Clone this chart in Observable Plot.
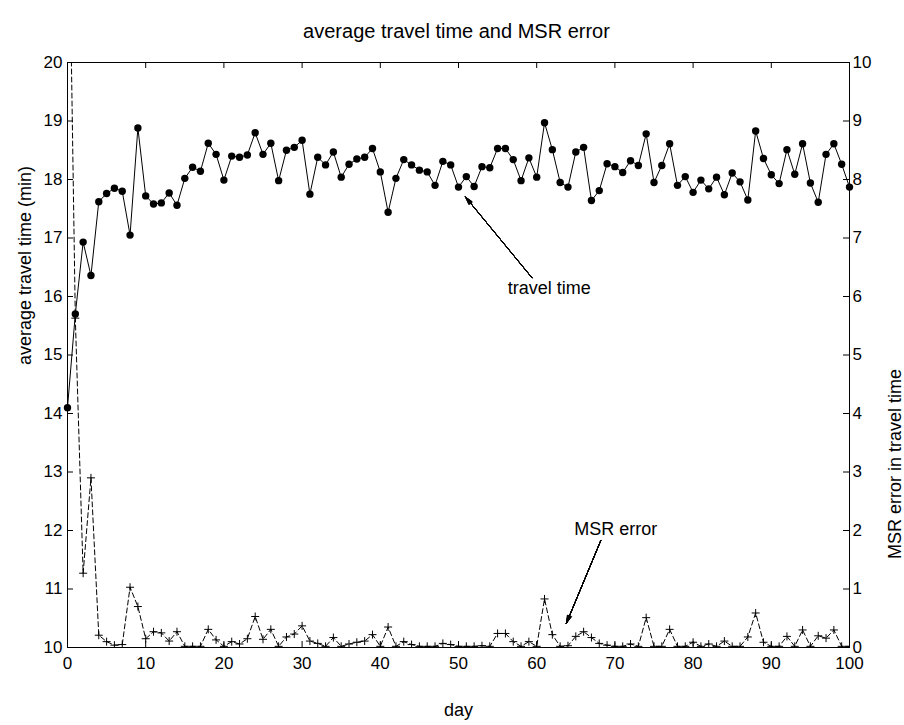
<!DOCTYPE html>
<html><head><meta charset="utf-8">
<script src="https://cdn.jsdelivr.net/npm/d3@7"></script>
<script src="https://cdn.jsdelivr.net/npm/@observablehq/plot@0.6"></script>
<style>html,body{margin:0;padding:0;background:#fff} svg{display:block}</style>
</head><body><div id="chart"></div>
<script>
// average travel time (min), day 0..100
const travelTime = [14.1,15.7,16.93,16.36,17.62,17.76,17.85,17.8,17.05,18.88,
17.72,17.58,17.6,17.77,17.56,18.02,18.21,18.14,18.62,18.43,
17.99,18.4,18.38,18.42,18.8,18.43,18.62,17.98,18.5,18.55,
18.67,17.75,18.38,18.25,18.47,18.04,18.26,18.35,18.38,18.53,
18.13,17.44,18.02,18.34,18.25,18.16,18.13,17.9,18.31,18.25,
17.87,18.05,17.88,18.22,18.2,18.53,18.53,18.34,17.98,18.37,
18.04,18.97,18.51,17.95,17.87,18.47,18.55,17.64,17.81,18.27,
18.22,18.12,18.32,18.24,18.78,17.95,18.24,18.61,17.9,18.05,
17.78,17.99,17.84,18.04,17.74,18.11,17.96,17.65,18.83,18.36,
18.08,17.93,18.51,18.09,18.61,17.94,17.61,18.43,18.61,18.26,
17.87];
// MSR error in travel time, day 0..100 (right axis)
const msrError = [14.4,5.63,1.27,2.9,0.21,0.1,0.04,0.05,1.03,0.7,
0.15,0.27,0.25,0.11,0.27,0.02,0.02,0.02,0.31,0.13,
0.02,0.1,0.06,0.15,0.53,0.14,0.31,0.02,0.18,0.23,
0.37,0.11,0.07,0.02,0.17,0.02,0.06,0.09,0.11,0.22,
0.02,0.35,0.02,0.1,0.05,0.02,0.02,0.02,0.07,0.05,
0.02,0.02,0.02,0.03,0.02,0.24,0.24,0.1,0.02,0.1,
0.02,0.83,0.22,0.02,0.03,0.19,0.27,0.17,0.07,0.04,
0.02,0.02,0.06,0.02,0.51,0.02,0.02,0.31,0.02,0.02,
0.09,0.02,0.06,0.02,0.11,0.02,0.02,0.18,0.59,0.09,
0.02,0.02,0.19,0.02,0.3,0.02,0.2,0.16,0.3,0.02,
0.02];
const xTicks = [0,10,20,30,40,50,60,70,80,90,100];
const leftTicks = [10,11,12,13,14,15,16,17,18,19,20];
const leftTickLabels = ["10","11","12","13","14","15","16","17","18","19","20"];
const rightTickLabels = ["0","1","2","3","4","5","6","7","8","9","10"];
const titleText = "average travel time and MSR error";
const xLabel = "day";
const yLeftLabel = "average travel time (min)";
const yRightLabel = "MSR error in travel time";
const annLabels = [
  {text: "travel time", day: 61.6, value: 16.14},
  {text: "MSR error", day: 70.1, value: 12.03}
];
const annArrows = [
  {d1: 59.4, v1: 16.32, d2: 50.9, v2: 17.70},
  {d1: 68.2, v1: 11.83, d2: 63.8, v2: 10.415}
];

const W = 904, H = 725, mL = 67, mR = 55, mT = 62, mB = 78;
const frameW = W - mL - mR, frameH = H - mT - mB;
const rightOffset = 10; // right axis 0..10 maps onto left 10..20
const tt = travelTime.map((v, i) => ({day: i, v}));
const ms = msrError.map((v, i) => ({day: i, v: v + rightOffset}));

const plusSym = {
  draw(context, size) {
    const r = Math.sqrt(size / Math.PI);
    context.moveTo(-r, 0); context.lineTo(r, 0);
    context.moveTo(0, -r); context.lineTo(0, r);
  }
};
const font = "'Liberation Sans', Arial, Helvetica, sans-serif";
const fs = 17, fsLab = 18, fsTitle = 20;
const headAngles = [4, 8, 12, 16, 20, 24, 28, 32];

const chart = Plot.plot({
  width: W, height: H,
  marginLeft: mL, marginRight: mR, marginTop: mT, marginBottom: mB,
  style: {fontFamily: font, fontSize: fs + "px", color: "black", background: "white"},
  x: {domain: [0, 100]},
  y: {domain: [10, 20]},
  marks: [
    Plot.axisX(xTicks, {anchor: "bottom", tickSize: 0, tickPadding: 9, label: null, fontSize: fs,
      tickFormat: d => String(d)}),
    Plot.axisY(leftTicks, {anchor: "left", tickSize: 0, tickPadding: 5, label: null, fontSize: fs,
      tickFormat: (d, i) => leftTickLabels[i]}),
    Plot.axisY(leftTicks, {anchor: "right", tickSize: 0, tickPadding: 3, label: null, fontSize: fs,
      tickFormat: (d, i) => rightTickLabels[i]}),
    // inward ticks (MATLAB style)
    Plot.tickY(leftTicks, {y: d => d, insetRight: frameW - 6, stroke: "black"}),
    Plot.tickY(leftTicks, {y: d => d, insetLeft: frameW - 6, stroke: "black"}),
    Plot.tickX(xTicks, {x: d => d, insetTop: frameH - 6, stroke: "black"}),
    Plot.tickX(xTicks, {x: d => d, insetBottom: frameH - 6, stroke: "black"}),
    // MSR error series
    Plot.line(ms, {x: "day", y: "v", stroke: "black", strokeWidth: 1, strokeDasharray: "5,3", clip: true}),
    Plot.dot(ms, {x: "day", y: "v", r: 4, symbol: plusSym, stroke: "black", fill: "none", strokeWidth: 1, clip: true}),
    // travel time series
    Plot.line(tt, {x: "day", y: "v", stroke: "black", strokeWidth: 1}),
    Plot.dot(tt, {x: "day", y: "v", r: 3.7, fill: "black", stroke: "none"}),
    Plot.frame({stroke: "black", strokeWidth: 1}),
    // annotations
    Plot.text(annLabels, {x: "day", y: "value", text: "text", fontSize: fsLab, fill: "black"}),
    ...headAngles.map(a => Plot.arrow(annArrows, {x1: "d1", y1: "v1", x2: "d2", y2: "v2",
      headLength: 12, headAngle: a, stroke: "black", strokeWidth: 1})),
    // titles
    Plot.text([titleText], {frameAnchor: "top", dy: -39, dx: -2, fontSize: fsTitle, fill: "black"}),
    Plot.text([xLabel], {frameAnchor: "bottom", dy: 68, fontSize: fsLab, fill: "black"}),
    Plot.text([yLeftLabel], {frameAnchor: "left", dx: -42, dy: 10, rotate: -90, fontSize: fsLab, fill: "black"}),
    Plot.text([yRightLabel], {frameAnchor: "right", dx: 46, dy: 14, rotate: -90, fontSize: fsLab, fill: "black"})
  ]
});
document.getElementById("chart").appendChild(chart);
</script>
</body></html>
